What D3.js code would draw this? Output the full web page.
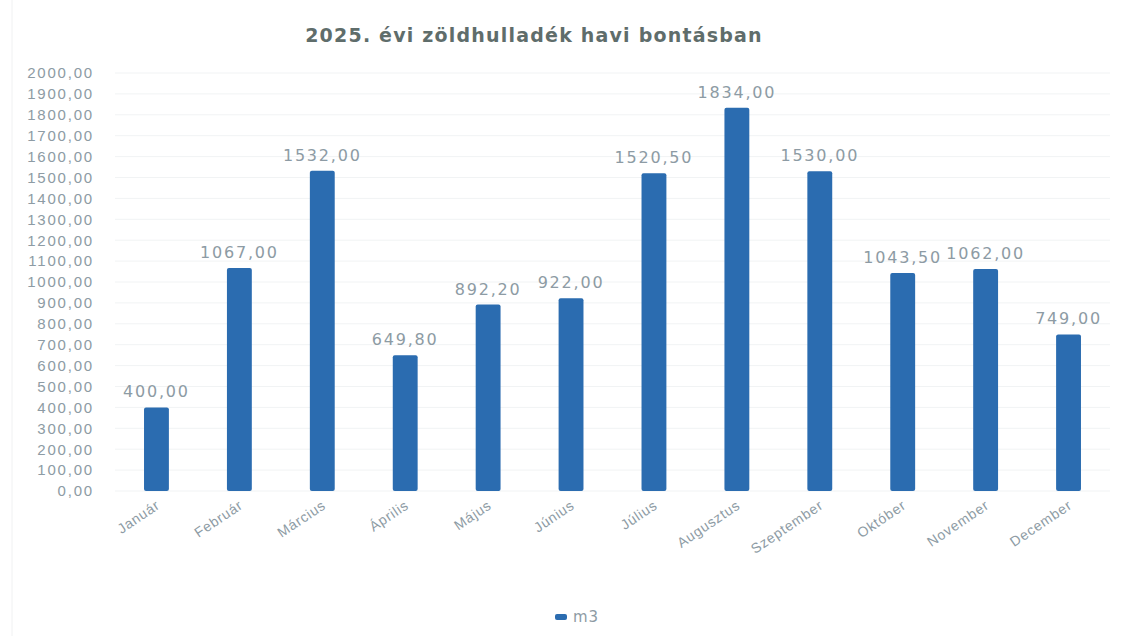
<!DOCTYPE html>
<html>
<head>
<meta charset="utf-8">
<script src="https://cdn.jsdelivr.net/npm/d3@7"></script>
<style>
  body { margin: 0; background: #fff; }
  svg { display: block; }
</style>
</head>
<body>
<svg id="chart"></svg>
<script>
const months = ["Január", "Február", "Március", "Április", "Május", "Június",
  "Július", "Augusztus", "Szeptember", "Október", "November", "December"];
const m3 = [400.00, 1067.00, 1532.00, 649.80, 892.20, 922.00,
  1520.50, 1834.00, 1530.00, 1043.50, 1062.00, 749.00];
const yTicks = d3.range(0, 2001, 100);

const width = 1126;
const height = 636;
const margin = { top: 73, right: 16, bottom: 145, left: 115 };

const labelColor = "#8d9ba4";
const barColor = "#2b6cb0";

const svg = d3.select("#chart")
  .attr("width", width)
  .attr("height", height)
  .attr("viewBox", `0 0 ${width} ${height}`)
  .style("font-family", "'DejaVu Sans', sans-serif");

const fmt = v => d3.format(".2f")(v).replace(".", ",");

const x = d3.scaleBand()
  .domain(months)
  .range([margin.left, width - margin.right])
  .paddingInner(0.7)
  .paddingOuter(0.35);

const y = d3.scaleLinear()
  .domain([0, 2000])
  .range([height - margin.bottom, margin.top]);

// faint left frame edge
svg.append("line")
  .attr("x1", 12).attr("x2", 12)
  .attr("y1", 0).attr("y2", height)
  .attr("stroke", "#f0f1f2");

// title
svg.append("text")
  .attr("x", 534)
  .attr("y", 42)
  .attr("text-anchor", "middle")
  .style("font-size", "19px")
  .style("font-weight", "bold")
  .style("letter-spacing", "1.2px")
  .attr("fill", "#5f6d6b")
  .text("2025. évi zöldhulladék havi bontásban");

// grid
svg.append("g")
  .selectAll("line")
  .data(yTicks)
  .join("line")
  .attr("x1", margin.left)
  .attr("x2", width - margin.right)
  .attr("y1", d => y(d))
  .attr("y2", d => y(d))
  .attr("stroke", "#f1f3f4")
  .attr("stroke-width", 1);

// y axis
const yAxis = svg.append("g")
  .attr("transform", `translate(${margin.left - 18},0)`)
  .call(d3.axisLeft(y).tickValues(yTicks).tickFormat(fmt).tickSize(0));
yAxis.select(".domain").remove();
yAxis.selectAll("text")
  .attr("fill", labelColor)
  .style("font-size", "15px")
  .style("letter-spacing", "1.8px")
  .attr("dx", "0");

// x axis
const xAxis = svg.append("g")
  .attr("transform", `translate(0,${y(0)})`)
  .call(d3.axisBottom(x).tickSize(0));
xAxis.select(".domain").remove();
xAxis.selectAll("text")
  .attr("fill", labelColor)
  .style("font-size", "14px")
  .style("letter-spacing", "0.8px")
  .attr("text-anchor", "end")
  .attr("transform", "translate(0,10) rotate(-34)")
  .attr("dy", "0.35em");

// bars
svg.append("g")
  .selectAll("rect")
  .data(m3)
  .join("rect")
  .attr("x", (d, i) => x(months[i]))
  .attr("y", d => y(d))
  .attr("width", x.bandwidth())
  .attr("height", d => y(0) - y(d))
  .attr("rx", 2)
  .attr("fill", barColor);

// data labels
svg.append("g")
  .selectAll("text")
  .data(m3)
  .join("text")
  .attr("x", (d, i) => x(months[i]) + x.bandwidth() / 2)
  .attr("y", d => y(d) - 10)
  .attr("text-anchor", "middle")
  .attr("fill", labelColor)
  .style("font-size", "16px")
  .style("letter-spacing", "1.8px")
  .text(d => fmt(d));

// legend
const legend = svg.append("g").attr("transform", "translate(555,617)");
legend.append("rect")
  .attr("x", 0).attr("y", -3)
  .attr("width", 12).attr("height", 6)
  .attr("rx", 2)
  .attr("fill", barColor);
legend.append("text")
  .attr("x", 18).attr("y", 0)
  .attr("dy", "0.35em")
  .attr("fill", labelColor)
  .style("font-size", "15px")
  .style("letter-spacing", "1px")
  .text("m3");
</script>
</body>
</html>
